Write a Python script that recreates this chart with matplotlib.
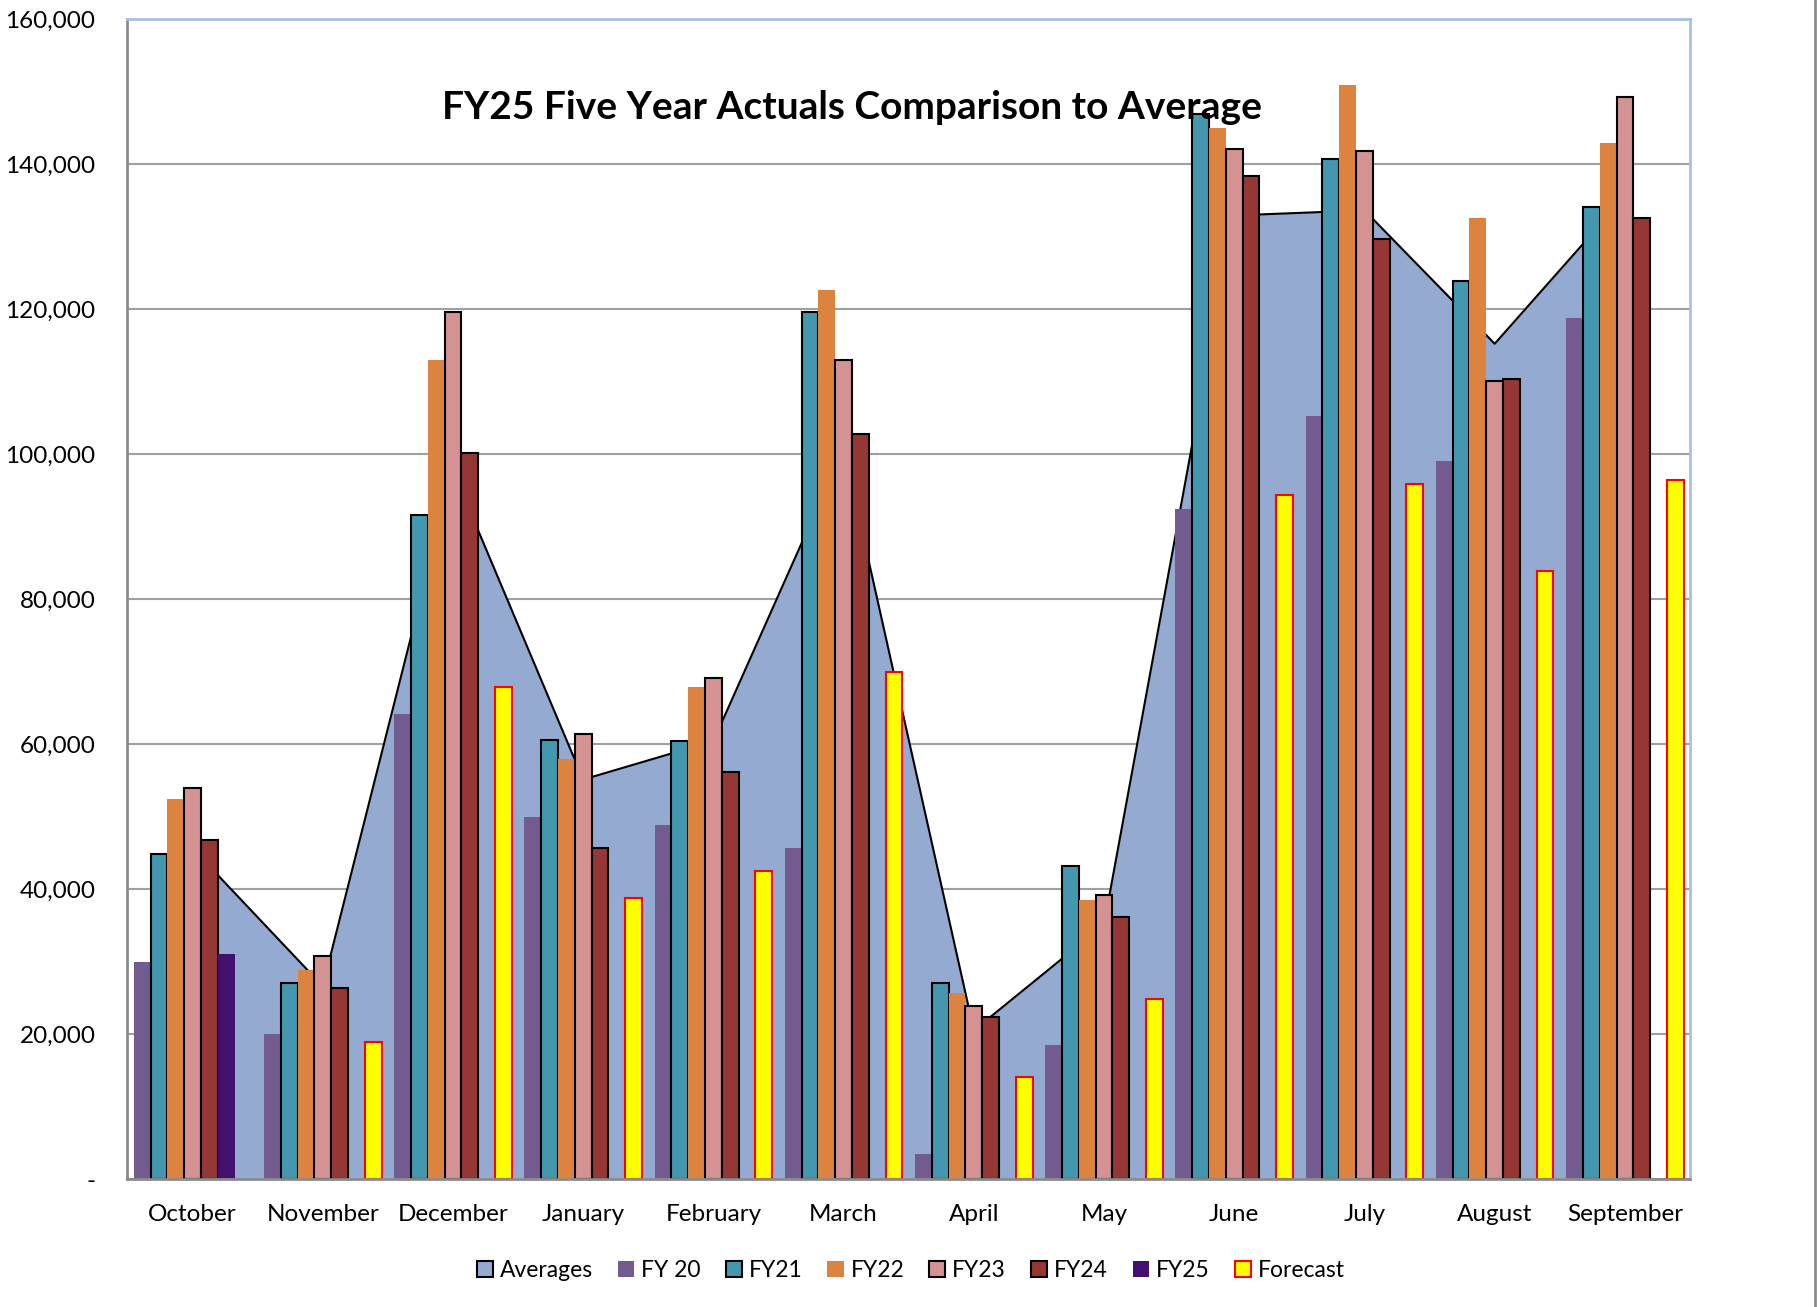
import numpy as np
import matplotlib
matplotlib.use('agg')
from matplotlib import pyplot as plt
from matplotlib.patches import Patch
from matplotlib.ticker import FuncFormatter

plt.rcParams['font.family'] = ['Lato', 'DejaVu Sans']

months = ['October', 'November', 'December', 'January', 'February', 'March',
          'April', 'May', 'June', 'July', 'August', 'September']

# values
averages = [45600, 26600, 97700, 55100, 60400, 100700, 20500, 35100, 132900, 133600, 115200, 135500]
fy20 = [30000, 20000, 64100, 49900, 48800, 45700, 3400, 18500, 92400, 105200, 99100, 118800]
fy21 = [44800, 27000, 91600, 60600, 60400, 119600, 27000, 43200, 146900, 140700, 123900, 134000]
fy22 = [52400, 28900, 112900, 57900, 67800, 122600, 25700, 38500, 145000, 150900, 132500, 142900]
fy23 = [53900, 30700, 119600, 61400, 69100, 113000, 23800, 39200, 142100, 141800, 110000, 149300]
fy24 = [46800, 26400, 100200, 45700, 56100, 102800, 22400, 36100, 138300, 129600, 110300, 132500]
fy25 = [31000, np.nan, np.nan, np.nan, np.nan, np.nan, np.nan, np.nan, np.nan, np.nan, np.nan, np.nan]
forecast = [np.nan, 18900, 67800, 38700, 42500, 70000, 14100, 24900, 94300, 95800, 83900, 96400]

series = [
    ('FY 20', fy20, '#735A8F', 'none'),
    ('FY21', fy21, '#4398B0', 'black'),
    ('FY22', fy22, '#DC843F', 'none'),
    ('FY23', fy23, '#D49392', 'black'),
    ('FY24', fy24, '#953735', 'black'),
    ('FY25', fy25, '#43106E', 'none'),
    ('Forecast', forecast, '#FFFF00', '#FF0000'),
]

fig = plt.figure(figsize=(18.18, 13.07), dpi=100)
ax = fig.add_axes([0.0701, 0.0979, 0.8595, 0.8876])

x = np.arange(len(months))
w = 0.129

# averages area behind the bars
ax.fill_between(x, averages, color='#95AAD1', lw=0, zorder=1)
ax.plot(x, averages, color='black', lw=1.5, zorder=1.5)

for j, (name, vals, col, ec) in enumerate(series):
    lw = 1.5 if ec != 'none' else 0
    ax.bar(x + (j - 3) * w, vals, width=w, color=col, edgecolor=ec, linewidth=lw, zorder=2)

ax.set_xlim(-0.5, 11.5)
ax.set_ylim(0, 160000)
ax.set_yticks(np.arange(0, 160001, 20000))
ax.yaxis.set_major_formatter(FuncFormatter(lambda v, p: '-' if v == 0 else '{:,.0f}'.format(v)))
ax.set_xticks(x)
ax.set_xticklabels(months)
ax.tick_params(axis='both', length=0, labelsize=17.5)
ax.tick_params(axis='y', pad=23)
ax.tick_params(axis='x', pad=18)
ax.grid(axis='y', color='#A0A0A0', lw=1.5, zorder=0)
ax.set_axisbelow(True)

for s in ['left', 'bottom']:
    ax.spines[s].set_color('#8C8C8C')
    ax.spines[s].set_linewidth(2)
for s in ['top', 'right']:
    ax.spines[s].set_color('#A9C0E4')
    ax.spines[s].set_linewidth(2)

ax.text(0.4637, 0.924, 'FY25 Five Year Actuals Comparison to Average', transform=ax.transAxes,
        ha='center', va='center', fontsize=28, fontweight='bold', zorder=5)

# outer chart border on the right
fig.add_artist(plt.Line2D([0.9985, 0.9985], [0, 1], transform=fig.transFigure, color='#8C8C8C', lw=2))

handles = [Patch(facecolor='#95AAD1', edgecolor='black', lw=1.5, label='Averages')]
for name, vals, col, ec in series:
    handles.append(Patch(facecolor=col, edgecolor=ec, lw=1.5 if ec != 'none' else 0, label=name))
fig.legend(handles=handles, loc='center', bbox_to_anchor=(0.501, 0.028), ncol=8, frameon=False,
           fontsize=16.5, handlelength=0.7, handleheight=0.7, handletextpad=0.3, columnspacing=1.1)

plt.savefig('out.png')
